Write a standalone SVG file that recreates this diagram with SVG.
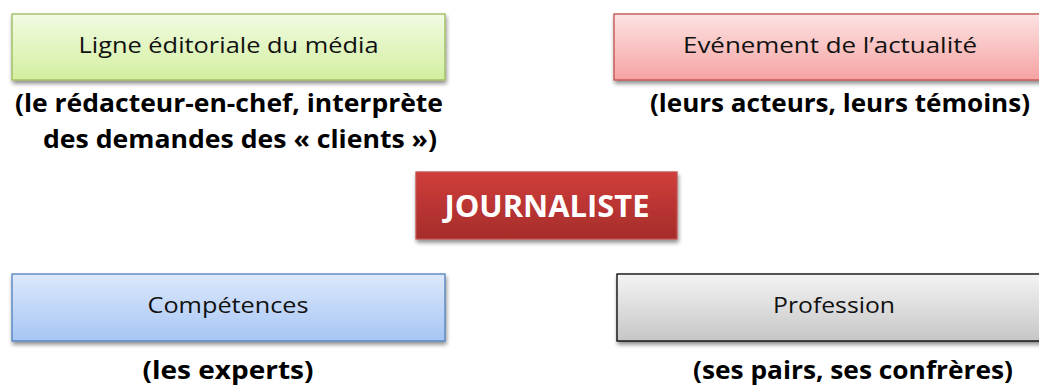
<svg xmlns="http://www.w3.org/2000/svg" width="1039" height="389" viewBox="0 0 1039 389">
<defs>
<linearGradient id="gGreen" x1="0" y1="0" x2="0" y2="1"><stop offset="0" stop-color="#f1fbe2"/><stop offset="1" stop-color="#d3efa0"/></linearGradient>
<linearGradient id="gRed" x1="0" y1="0" x2="0" y2="1"><stop offset="0" stop-color="#fde3e3"/><stop offset="1" stop-color="#f5a3a2"/></linearGradient>
<linearGradient id="gBlue" x1="0" y1="0" x2="0" y2="1"><stop offset="0" stop-color="#dde8fc"/><stop offset="1" stop-color="#a6c6f4"/></linearGradient>
<linearGradient id="gGray" x1="0" y1="0" x2="0" y2="1"><stop offset="0" stop-color="#f4f4f4"/><stop offset="1" stop-color="#c6c6c6"/></linearGradient>
<linearGradient id="gJour" x1="0" y1="0" x2="0" y2="1"><stop offset="0" stop-color="#d03d3b"/><stop offset="1" stop-color="#a52c2a"/></linearGradient>
<filter id="sh" x="-10%" y="-20%" width="130%" height="160%"><feGaussianBlur in="SourceAlpha" stdDeviation="2"/><feOffset dx="1" dy="3" result="b"/><feComponentTransfer><feFuncA type="linear" slope="0.45"/></feComponentTransfer><feMerge><feMergeNode/><feMergeNode in="SourceGraphic"/></feMerge></filter>
</defs>
<style>
.box{stroke-width:1.3;filter:url(#sh)}
.lbl{font-family:"Open Sans","Liberation Sans",sans-serif;font-size:22px;fill:#111;text-anchor:middle}
.sub{font-family:"Open Sans","Liberation Sans",sans-serif;font-weight:bold;font-size:25px;fill:#000;text-anchor:middle}
.jr{font-family:"Open Sans","Liberation Sans",sans-serif;font-weight:bold;font-size:30px;fill:#fff;text-anchor:middle}
</style>
<rect width="1039" height="389" fill="#fff"/>
<g id="connectors"/>
<g id="ligne">
<rect class="box" x="12" y="14" width="433" height="66" fill="url(#gGreen)" stroke="#9bbb59"/>
<text class="lbl" x="228.5" y="53" textLength="300" lengthAdjust="spacingAndGlyphs">Ligne éditoriale du média</text>
<text class="sub" x="229" y="112" textLength="428" lengthAdjust="spacingAndGlyphs">(le rédacteur-en-chef, interprète</text>
<text class="sub" x="240" y="148" textLength="394" lengthAdjust="spacingAndGlyphs">des demandes des « clients »)</text>
</g>
<g id="evenement">
<rect class="box" x="614" y="14" width="440" height="66" fill="url(#gRed)" stroke="#c0504d"/>
<text class="lbl" x="830" y="53" textLength="294" lengthAdjust="spacingAndGlyphs">Evénement de l’actualité</text>
<text class="sub" x="840" y="112" textLength="380" lengthAdjust="spacingAndGlyphs">(leurs acteurs, leurs témoins)</text>
</g>
<g id="journaliste">
<rect class="box" x="416" y="172" width="261" height="67" fill="url(#gJour)" stroke="#c0504d"/>
<text class="jr" x="547" y="217" textLength="205" lengthAdjust="spacingAndGlyphs">JOURNALISTE</text>
</g>
<g id="competences">
<rect class="box" x="12" y="274" width="433" height="67" fill="url(#gBlue)" stroke="#4f81bd"/>
<text class="lbl" x="228" y="313" textLength="161" lengthAdjust="spacingAndGlyphs">Compétences</text>
<text class="sub" x="228" y="379" textLength="171" lengthAdjust="spacingAndGlyphs">(les experts)</text>
</g>
<g id="profession">
<rect class="box" x="617" y="274" width="440" height="67" fill="url(#gGray)" stroke="#000"/>
<text class="lbl" x="834" y="313" textLength="122" lengthAdjust="spacingAndGlyphs">Profession</text>
<text class="sub" x="853" y="379" textLength="320" lengthAdjust="spacingAndGlyphs">(ses pairs, ses confrères)</text>
</g>
</svg>
